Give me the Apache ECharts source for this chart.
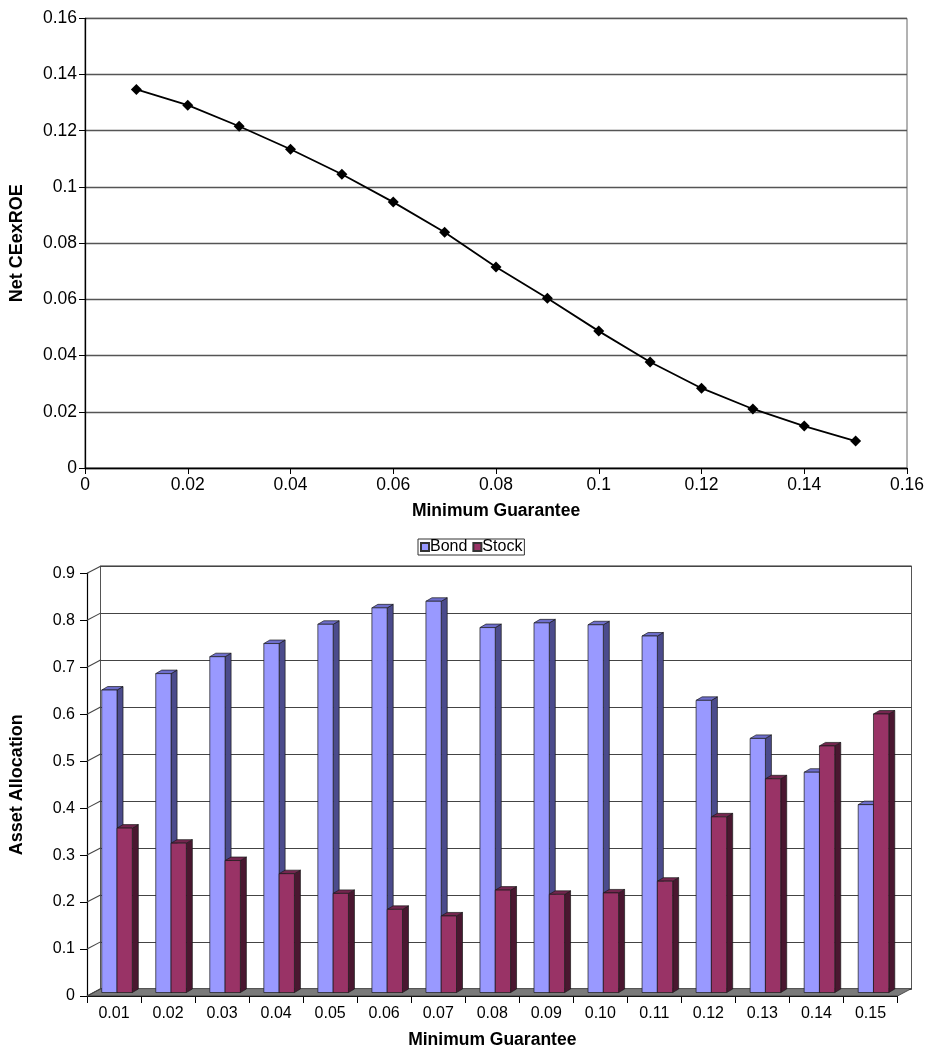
<!DOCTYPE html>
<html>
<head>
<meta charset="utf-8">
<script src="https://cdn.jsdelivr.net/npm/echarts@6/dist/echarts.min.js"></script>
<style>
html,body{margin:0;padding:0;background:#fff;}
#chart{width:929px;height:1050px;}
</style>
</head>
<body>
<div id="chart"></div>
<script>
// ---- Data ----
const guarantee = [0.01,0.02,0.03,0.04,0.05,0.06,0.07,0.08,0.09,0.10,0.11,0.12,0.13,0.14,0.15];
const netCEexROE = [0.1347,0.1291,0.1216,0.1134,0.1045,0.0946,0.0839,0.0715,0.0604,0.0487,0.0377,0.0284,0.0210,0.0149,0.0096];
const categories = ['0.01','0.02','0.03','0.04','0.05','0.06','0.07','0.08','0.09','0.10','0.11','0.12','0.13','0.14','0.15'];
const bond  = [0.644,0.679,0.715,0.743,0.784,0.819,0.833,0.777,0.787,0.783,0.759,0.622,0.541,0.469,0.400];
const stock = [0.350,0.318,0.281,0.253,0.211,0.177,0.163,0.218,0.209,0.212,0.237,0.374,0.455,0.525,0.593];
const allocTicks = [0,0.1,0.2,0.3,0.4,0.5,0.6,0.7,0.8,0.9];

const FONT = '"Liberation Sans", Arial, Helvetica, sans-serif';
const DEPTH_X = 14, DEPTH_Y = -7.4;     // wall depth
const BAR_DX = 6, BAR_DY = -3.5;        // bar depth
const BAR_OFF_Y = -3.5;                 // bars stand slightly behind the front plane

const chart = echarts.init(document.getElementById('chart'));

function barRenderer(kind) {
  const colors = kind === 'bond'
    ? {front:'#9999FF', side:'#4B4B8C', top:'#6E6ECC'}
    : {front:'#993366', side:'#4A1730', top:'#74264F'};
  return function (params, api) {
    const cat = api.value(0), val = api.value(1);
    const p0 = api.coord([cat, 0]);
    const p1 = api.coord([cat, val]);
    const bw = api.size([1, 0])[0];
    const w = bw * 0.283;
    const left = kind === 'bond' ? p0[0] - w + 3 : p0[0] + 3;
    const bottom = p0[1] + BAR_OFF_Y;
    const top = p1[1] + BAR_OFF_Y;
    const stroke = {stroke:'#1a1a1a', lineWidth:0.7};
    return {
      type: 'group',
      children: [
        {type:'polygon', shape:{points:[[left+w,top],[left+w+BAR_DX,top+BAR_DY],[left+w+BAR_DX,bottom+BAR_DY],[left+w,bottom]]},
          style:Object.assign({fill:colors.side}, stroke)},
        {type:'polygon', shape:{points:[[left,top],[left+BAR_DX,top+BAR_DY],[left+w+BAR_DX,top+BAR_DY],[left+w,top]]},
          style:Object.assign({fill:colors.top}, stroke)},
        {type:'rect', shape:{x:left, y:top, width:w, height:bottom-top},
          style:Object.assign({fill:colors.front}, stroke)}
      ]
    };
  };
}

const option = {
  backgroundColor: '#ffffff',
  animation: false,
  textStyle: {fontFamily: FONT},
  legend: {
    data: ['Bond', 'Stock'],
    left: 418, top: 539,
    itemWidth: 8, itemHeight: 8, itemGap: 5,
    icon: 'rect',
    borderColor: '#333', borderWidth: 1, borderRadius: 0,
    padding: [0, 2, 0, 2],
    textStyle: {fontSize: 16, color: '#000', fontFamily: FONT, padding: [0,0,0,-4]},
    selectedMode: false
  },
  grid: [
    {left: 84, right: 22, top: 18.3, bottom: 582, show: true, borderColor: '#666', borderWidth: 1},
    {left: 86.5, right: 31.5, top: 573.3, bottom: 53.3},
    {left: 100.5, right: 17.5, top: 565.9, bottom: 60.7, show: true, borderColor: '#555', borderWidth: 1}
  ],
  xAxis: [
    {gridIndex: 0, type: 'value', min: 0, max: 0.16, interval: 0.02,
     name: 'Minimum Guarantee', nameLocation: 'middle', nameGap: 34,
     nameTextStyle: {fontSize: 17.5, fontWeight: 'bold', color: '#000', fontFamily: FONT},
     axisLine: {show: true, lineStyle: {color: '#000', width: 1.3}},
     axisTick: {show: true, length: 6, lineStyle: {color: '#000'}},
     axisLabel: {fontSize: 17.5, color: '#000', margin: 8, fontFamily: FONT},
     splitLine: {show: false}},
    {gridIndex: 1, type: 'category', data: categories, boundaryGap: true,
     name: 'Minimum Guarantee', nameLocation: 'middle', nameGap: 35,
     nameTextStyle: {fontSize: 17.5, fontWeight: 'bold', color: '#000', fontFamily: FONT},
     axisLine: {show: true, lineStyle: {color: '#000', width: 1.2}},
     axisTick: {show: true, length: 7, interval: 0, lineStyle: {color: '#000'}},
     axisLabel: {fontSize: 16, color: '#000', margin: 10, interval: 0, fontFamily: FONT},
     splitLine: {show: false}},
    {gridIndex: 2, type: 'category', data: categories, show: false}
  ],
  yAxis: [
    {gridIndex: 0, type: 'value', min: 0, max: 0.16, interval: 0.02,
     name: 'Net CEexROE', nameLocation: 'middle', nameGap: 59,
     nameTextStyle: {fontSize: 18, fontWeight: 'bold', color: '#000', fontFamily: FONT},
     axisLine: {show: true, lineStyle: {color: '#000', width: 1.3}},
     axisTick: {show: true, length: 6, lineStyle: {color: '#000'}},
     axisLabel: {fontSize: 17.5, color: '#000', margin: 8, fontFamily: FONT},
     splitLine: {show: true, lineStyle: {color: '#555', width: 1.3}}},
    {gridIndex: 1, type: 'value', min: 0, max: 0.9, interval: 0.1,
     name: 'Asset Allocation', nameLocation: 'middle', nameGap: 61,
     nameTextStyle: {fontSize: 18, fontWeight: 'bold', color: '#000', fontFamily: FONT},
     axisLine: {show: true, lineStyle: {color: '#000', width: 1.2}},
     axisTick: {show: true, length: 7, lineStyle: {color: '#000'}},
     axisLabel: {fontSize: 16, color: '#000', margin: 12, fontFamily: FONT},
     splitLine: {show: false}},
    {gridIndex: 2, type: 'value', min: 0, max: 0.9, interval: 0.1,
     axisLine: {show: false}, axisTick: {show: false}, axisLabel: {show: false},
     splitLine: {show: true, lineStyle: {color: '#444', width: 1.2}}}
  ],
  series: [
    {
      type: 'line', xAxisIndex: 0, yAxisIndex: 0,
      data: guarantee.map((g, i) => [g, netCEexROE[i]]),
      symbol: 'diamond', symbolSize: 11,
      lineStyle: {color: '#000', width: 1.8},
      itemStyle: {color: '#000'},
      z: 5
    },
    {
      // side wall diagonals and floor of the 3D bar chart
      type: 'custom', xAxisIndex: 1, yAxisIndex: 1, z: 1, silent: true,
      data: allocTicks.map(v => [0, v]),
      renderItem: function (params, api) {
        const v = api.value(1);
        const p = api.coord([0, v]);
        const bw = api.size([1, 0])[0];
        const xl = p[0] - bw / 2;
        const children = [];
        if (v === 0) {
          const xr = api.coord([categories.length - 1, 0])[0] + bw / 2;
          children.push({type: 'polygon',
            shape: {points: [[xl, p[1]], [xr, p[1]], [xr + DEPTH_X, p[1] + DEPTH_Y], [xl + DEPTH_X, p[1] + DEPTH_Y]]},
            style: {fill: '#7a7a7a', stroke: '#333', lineWidth: 0.8}});
        }
        children.push({type: 'line',
          shape: {x1: xl, y1: p[1], x2: xl + DEPTH_X, y2: p[1] + DEPTH_Y},
          style: {stroke: '#444', lineWidth: 1.1}});
        return {type: 'group', children: children};
      }
    },
    {
      name: 'Bond', type: 'custom', xAxisIndex: 1, yAxisIndex: 1, z: 3,
      itemStyle: {color: '#9999FF', borderColor: '#333', borderWidth: 0.8},
      data: bond.map((v, i) => [i, v]),
      renderItem: barRenderer('bond')
    },
    {
      name: 'Stock', type: 'custom', xAxisIndex: 1, yAxisIndex: 1, z: 4,
      itemStyle: {color: '#993366', borderColor: '#333', borderWidth: 0.8},
      data: stock.map((v, i) => [i, v]),
      renderItem: barRenderer('stock')
    }
  ]
};
chart.setOption(option);
</script>
</body>
</html>
